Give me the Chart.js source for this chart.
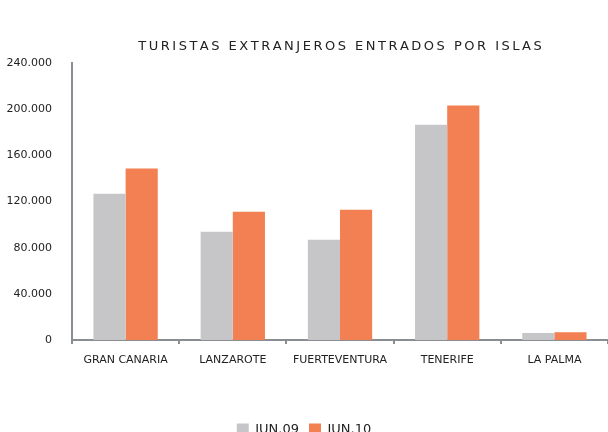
<!DOCTYPE html>
<html>
<head>
<meta charset="utf-8">
<script src="https://cdn.jsdelivr.net/npm/chart.js@4/dist/chart.umd.min.js"></script>
<style>
  html, body { margin: 0; padding: 0; background: #fff; overflow: hidden; }
  #wrap { width: 608px; height: 450px; }
</style>
</head>
<body>
<div id="wrap"><canvas id="chart" width="608" height="450"></canvas></div>
<script>
const titleText = 'TURISTAS EXTRANJEROS ENTRADOS POR ISLAS';
const islands = ['GRAN CANARIA', 'LANZAROTE', 'FUERTEVENTURA', 'TENERIFE', 'LA PALMA'];
const seriesNames = ['JUN.09', 'JUN.10'];
const jun09 = [126800, 93800, 86800, 186600, 6100];
const jun10 = [148600, 111200, 112900, 203200, 6800];
const yTicks = [0, 40000, 80000, 120000, 160000, 200000, 240000];

const FONT = 'DejaVu Sans';
const AXIS = '#8a8d92';

function fmtThousands(v) {
  return String(v).replace(/\B(?=(\d{3})+(?!\d))/g, '.');
}

// title with wide letter spacing, centred over the plot
const spacedTitle = {
  id: 'spacedTitle',
  afterDraw(chart) {
    const { ctx, chartArea } = chart;
    const spacing = 2.5;
    ctx.save();
    ctx.font = `13px "${FONT}"`;
    ctx.fillStyle = '#222';
    ctx.textBaseline = 'middle';
    ctx.textAlign = 'left';
    const chars = [...titleText];
    const widths = chars.map(c => ctx.measureText(c).width);
    const total = widths.reduce((a, b) => a + b, 0) + spacing * (chars.length - 1);
    let x = (chartArea.left + chartArea.right) / 2 - total / 2;
    chars.forEach((c, i) => {
      ctx.fillText(c, x, 47);
      x += widths[i] + spacing;
    });
    ctx.restore();
  }
};

new Chart(document.getElementById('chart'), {
  type: 'bar',
  data: {
    labels: islands,
    datasets: [
      { label: seriesNames[0], data: jun09, backgroundColor: '#c6c6c8' },
      { label: seriesNames[1], data: jun10, backgroundColor: '#f28052' },
    ],
  },
  options: {
    responsive: false,
    animation: false,
    layout: { padding: { top: 63, right: 0, left: 0, bottom: 4 } },
    datasets: {
      bar: { categoryPercentage: 0.6, barPercentage: 1.0 },
    },
    scales: {
      x: {
        grid: { display: true, drawOnChartArea: false, drawTicks: true, tickLength: 4, color: AXIS, lineWidth: 2 },
        border: { display: true, color: AXIS, width: 2 },
        ticks: { color: '#222', font: { family: FONT, size: 11 }, padding: 10, maxRotation: 0 },
        afterFit(scale) { scale.height = 73; },
      },
      y: {
        min: 0,
        max: 240000,
        afterBuildTicks(scale) { scale.ticks = yTicks.map(v => ({ value: v })); },
        grid: { display: false },
        border: { display: true, color: AXIS, width: 2 },
        ticks: {
          color: '#222',
          font: { family: FONT, size: 11 },
          padding: 12,
          callback: v => fmtThousands(v),
        },
        afterFit(scale) { scale.width = 72; },
      },
    },
    plugins: {
      title: { display: false },
      tooltip: { enabled: false },
      legend: {
        position: 'bottom',
        labels: {
          color: '#222',
          font: { family: FONT, size: 13 },
          boxWidth: 12,
          boxHeight: 12,
          padding: 10,
        },
      },
    },
  },
  plugins: [spacedTitle],
});
</script>
</body>
</html>
